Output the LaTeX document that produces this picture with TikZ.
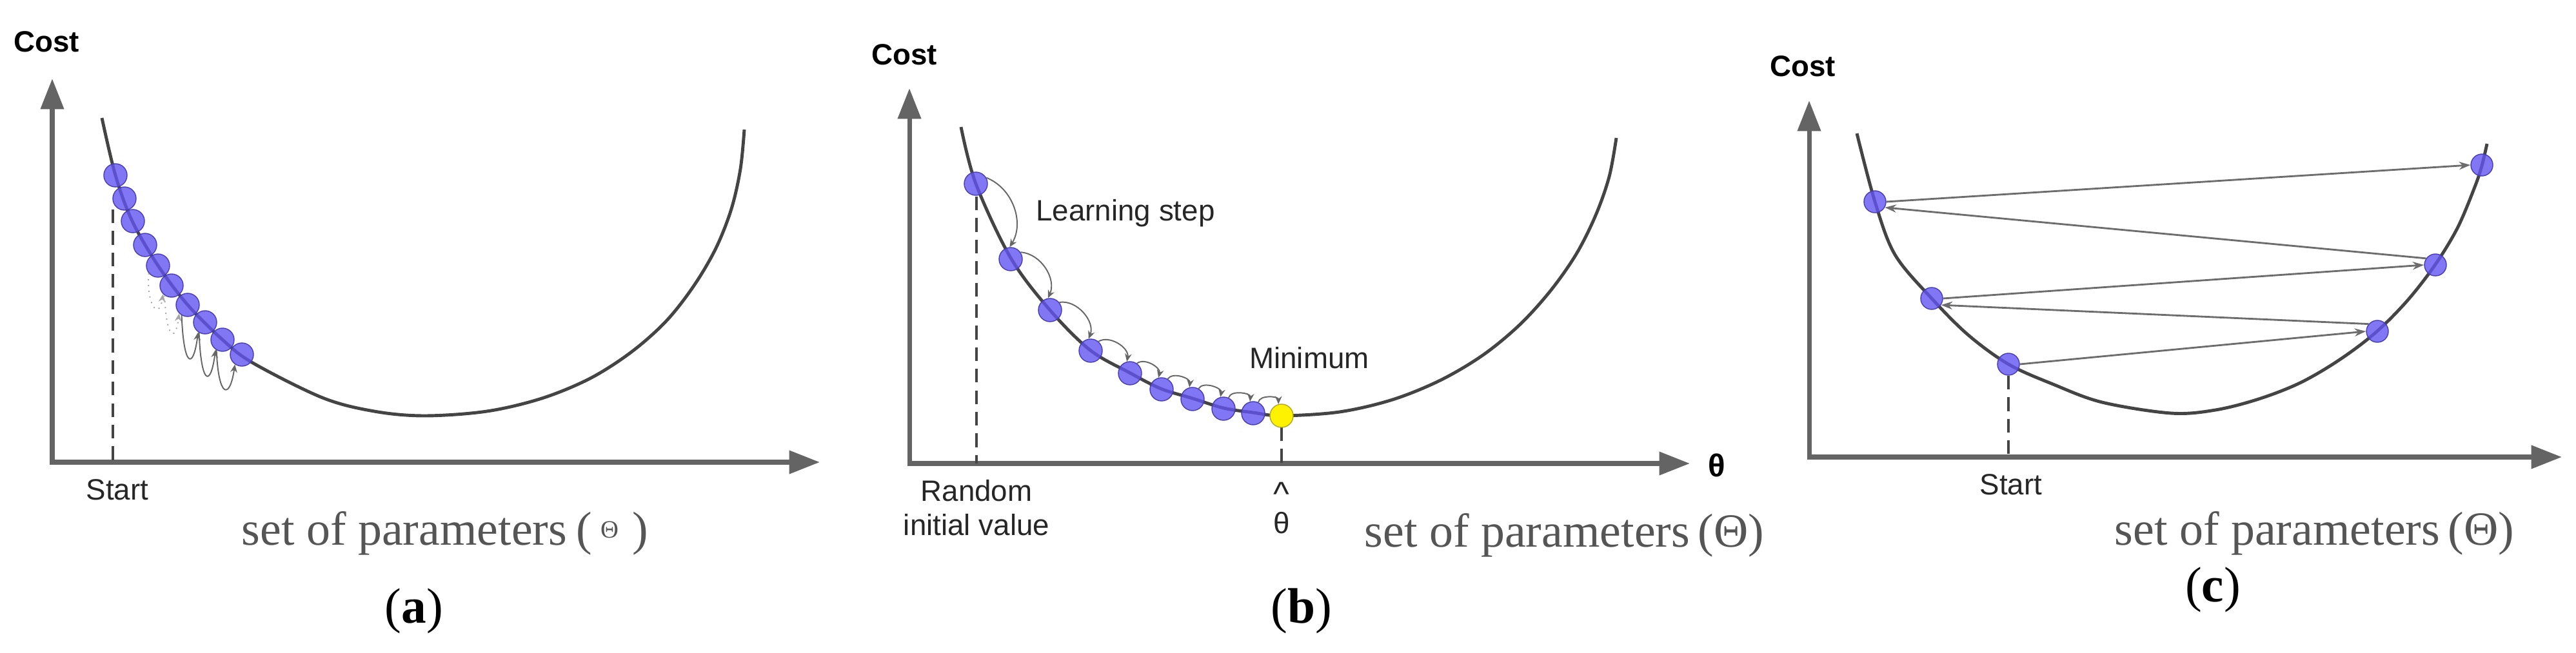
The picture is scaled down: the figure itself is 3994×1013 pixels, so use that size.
\documentclass[tikz,border=0pt]{standalone}
\usepackage{fontspec}
\setmainfont{Liberation Serif}
\newfontfamily\arialf{Liberation Sans}
\usetikzlibrary{arrows.meta}
\definecolor{ballblue}{RGB}{98,84,240}
\definecolor{balledge}{RGB}{70,60,180}
\definecolor{ballyel}{RGB}{255,242,0}
\definecolor{yeledge}{RGB}{175,165,40}
\definecolor{axisgray}{RGB}{100,100,100}
\definecolor{curvegray}{RGB}{68,68,68}
\definecolor{txtgray}{RGB}{85,85,85}
\begin{document}
\begin{tikzpicture}[x=0.01cm,y=-0.01cm,
  axes/.style={draw=axisgray,line width=2pt,
    {Triangle[length=13.5pt,width=10pt]}-{Triangle[length=13.5pt,width=10pt]}},
  curve/.style={draw=curvegray,line width=1.4pt},
  ball/.style={circle,minimum size=0.36cm,inner sep=0pt,fill=ballblue,fill opacity=0.8,draw=balledge,line width=0.4pt},
  smallball/.style={ball,minimum size=0.34cm},
  yball/.style={ball,fill=ballyel,draw=yeledge,fill opacity=1},
  guide/.style={draw=curvegray,line width=0.9pt,dash pattern=on 6pt off 3.5pt},
  lbl/.style={font=\arialf\fontsize{13}{15}\selectfont,text=black!85,inner sep=0pt},
  costlbl/.style={font=\arialf\bfseries\fontsize{13}{15}\selectfont,inner sep=0pt},
  param/.style={font=\fontsize{21}{24}\selectfont,text=txtgray,inner sep=0pt,anchor=base west},
  sublbl/.style={font=\fontsize{22}{24}\selectfont,inner sep=0pt},
  hop/.style={draw=gray!80!black,line width=0.55pt,-{Stealth[length=3.5pt,width=3pt]}},
  loopd/.style={hop,dotted,draw=gray!70},
  jump/.style={draw=gray!85!black,line width=0.8pt,-{Stealth[length=5pt,width=3.5pt]}}
]
\useasboundingbox (0,0) rectangle (3994,1013);

% ================= panel (a) =================
\coordinate (aO) at (81,717);
\coordinate (aY) at (81,122);
\coordinate (aX) at (1271,717);
\draw[axes] (aY) -- (aO) -- (aX);
\node[costlbl] (acost) at (72,65) {Cost};
\draw[curve] plot[smooth,tension=0.55] coordinates {(158,183) (179,272) (205,343) (245,412) (291,473) (345,527) (392,563) (500,617) (580,638) (658,645) (755,638) (840,618) (915,587) (979,546) (1033,498) (1076,443) (1110,385) (1134,324) (1148,262) (1154,201)};
\coordinate (aS) at (175,717);
\draw[guide] (175,325) -- (aS);
\node[ball] (a1) at (179,272) {};
\node[ball] (a2) at (193,308) {};
\node[ball] (a3) at (206,343) {};
\node[ball] (a4) at (225,380) {};
\node[ball] (a5) at (245,412) {};
\node[ball] (a6) at (266,443) {};
\node[ball] (a7) at (291,473) {};
\node[ball] (a8) at (318,500) {};
\node[ball] (a9) at (345,527) {};
\node[ball] (a10) at (375,550) {};
\draw[loopd] (a5.220) .. controls +(-4,50) and +(-6,42) .. (a6.225);
\draw[loopd] (a6.235) .. controls +(2,65) and +(-6,48) .. (a7.225);
\draw[hop] (a7.240) .. controls +(3,80) and +(-8,60) .. (a8.235);
\draw[hop] (a8.240) .. controls +(3,80) and +(-8,60) .. (a9.235);
\draw[hop] (a9.240) .. controls +(3,75) and +(-8,55) .. (a10.235);
\node[lbl] (astart) at (182,760) {Start};
\node[param] (aparam) at (374,845) {set of parameters\hspace{4pt}(\hspace{4pt}\raisebox{3pt}{\fontsize{11}{12}\selectfont Θ}\hspace{6pt})};
\node[sublbl] (asub) at (642,948) {(\textbf{a})};

% ================= panel (b) =================
\coordinate (bO) at (1410,719);
\coordinate (bY) at (1410,137);
\coordinate (bX) at (2620,719);
\draw[axes] (bY) -- (bO) -- (bX);
\node[costlbl] (bcost) at (1402,85) {Cost};
\node[font=\arialf\bfseries\fontsize{14}{15}\selectfont,inner sep=0pt] (btheta) at (2662,722) {θ};
\draw[curve] plot[smooth,tension=0.55] coordinates {(1490,197) (1513,285) (1567,400) (1627,480) (1690,543) (1751,578) (1800,603) (1849,618) (1897,633) (1943,640) (1987,645) (2077,639) (2159,620) (2233,590) (2299,551) (2356,504) (2404,451) (2444,394) (2474,334) (2495,274) (2506,214)};
\coordinate (bS) at (1514,719);
\coordinate (bM) at (1987,719);
\draw[guide] (1514,305) -- (bS);
\draw[guide] (1987,663) -- (bM);
\node[ball] (b1) at (1513,285) {};
\node[ball] (b2) at (1567,402) {};
\node[ball] (b3) at (1628,481) {};
\node[ball] (b4) at (1691,544) {};
\node[ball] (b5) at (1752,579) {};
\node[ball] (b6) at (1801,604) {};
\node[ball] (b7) at (1849,619) {};
\node[ball] (b8) at (1897,634) {};
\node[ball] (b9) at (1943,641) {};
\node[yball] (b10) at (1987,645) {};
\draw[hop] (b1.30) to[bend left=50] (b2.95);
\draw[hop] (b2.35) to[bend left=55] (b3.100);
\draw[hop] (b3.40) to[bend left=60] (b4.100);
\draw[hop] (b4.50) to[bend left=65] (b5.105);
\draw[hop] (b5.55) to[bend left=70] (b6.105);
\draw[hop] (b6.60) to[bend left=75] (b7.105);
\draw[hop] (b7.60) to[bend left=80] (b8.105);
\draw[hop] (b8.65) to[bend left=85] (b9.105);
\draw[hop] (b9.65) to[bend left=85] (b10.105);
\node[lbl] (blearn) at (1745,331) {Learning step};
\node[lbl] (bmin) at (2030,555) {Minimum};
\node[lbl,align=center] (brand) at (1514,788) {Random\\[0pt]initial value};
\node[lbl,align=center] (bhat) at (1987,788) {{\fontsize{15}{15}\selectfont\textasciicircum}\\[-3pt]θ};
\node[param] (bparam) at (2115,848) {set of parameters\,(Θ)};
\node[sublbl] (bsub) at (2018,948) {(\textbf{b})};

% ================= panel (c) =================
\coordinate (cO) at (2805,709);
\coordinate (cY) at (2805,156);
\coordinate (cX) at (3972,709);
\draw[axes] (cY) -- (cO) -- (cX);
\node[costlbl] (ccost) at (2795,103) {Cost};
\draw[curve] plot[smooth,tension=0.55] coordinates {(2879,207) (2907,313) (2938,395) (2995,463) (3052,520) (3114,565) (3183,596) (3259,624) (3366,641) (3435,636) (3502,619) (3566,594) (3626,559) (3682,517) (3731,468) (3774,413) (3810,354) (3837,290) (3848,257) (3856,223)};
\coordinate (cS) at (3114,709);
\draw[guide] (3114,583) -- (cS);
\node[smallball] (l1) at (2907,313) {};
\node[smallball] (l2) at (2995,463) {};
\node[smallball] (l3) at (3114,565) {};
\node[smallball] (r1) at (3686,514) {};
\node[smallball] (r2) at (3776,411) {};
\node[smallball] (r3) at (3848,256) {};
\draw[jump] (l3.east) -- (r1.west);
\draw[jump] (r1.140) -- (l2.-35);
\draw[jump] (l2.east) -- (r2.west);
\draw[jump] (r2.145) -- (l1.-30);
\draw[jump] (l1.east) -- (r3.west);
\node[lbl] (cstart) at (3118,752) {Start};
\node[param] (cparam) at (3278,845) {set of parameters\,(Θ)};
\node[sublbl] (csub) at (3431,915) {(\textbf{c})};
\end{tikzpicture}
\end{document}
